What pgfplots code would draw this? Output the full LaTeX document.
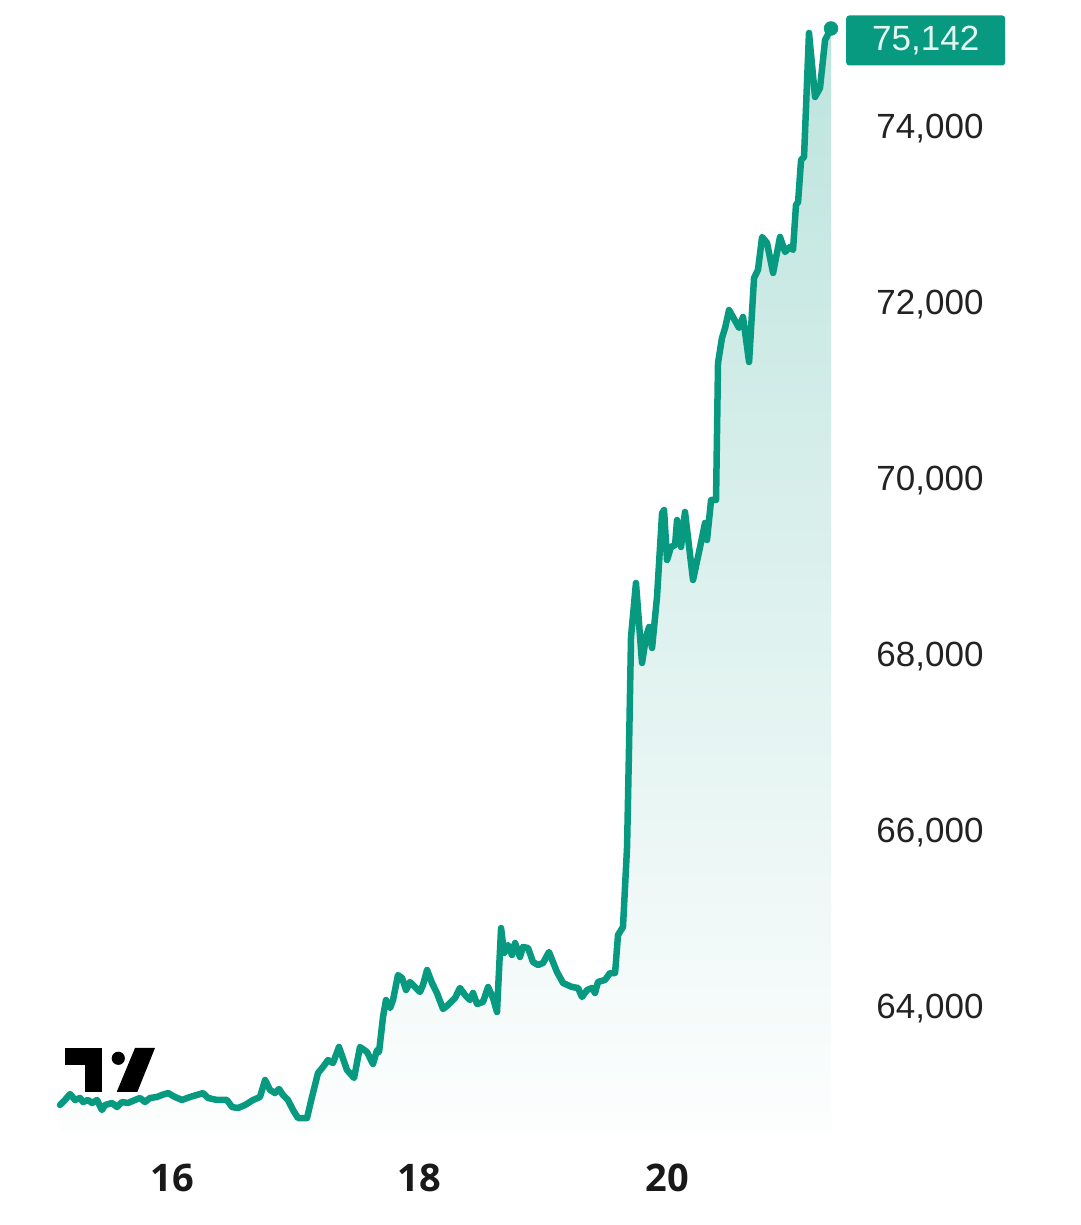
\documentclass[border=0pt]{standalone}
\usepackage{pgfplots}
\usepackage{pgfplotstable}
\pgfplotsset{compat=1.18}
\usepackage{fontspec}
\newfontfamily\labelfont{Liberation Sans}
\newfontfamily\boldfont{Open Sans}
\definecolor{tvgreen}{HTML}{089981}
\definecolor{labelgray}{HTML}{222222}
\definecolor{boxtext}{HTML}{E2F7F0}

\pgfplotstableread{
x y
15.095 62909
15.135 62966
15.176 63034
15.216 62966
15.257 62989
15.281 62943
15.321 62966
15.354 62932
15.394 62966
15.434 62852
15.459 62909
15.515 62932
15.556 62886
15.596 62943
15.644 62932
15.701 62966
15.741 62989
15.782 62943
15.822 62989
15.879 63000
15.919 63023
15.968 63045
16.024 63000
16.081 62966
16.145 63000
16.202 63023
16.251 63045
16.291 62989
16.364 62966
16.444 62966
16.485 62886
16.533 62875
16.590 62909
16.655 62966
16.711 63000
16.752 63193
16.792 63080
16.832 63045
16.865 63091
16.897 63023
16.937 62966
16.978 62852
17.018 62761
17.075 62761
17.091 62761
17.131 63000
17.180 63273
17.220 63341
17.261 63420
17.301 63386
17.349 63568
17.414 63307
17.471 63216
17.519 63568
17.576 63511
17.624 63375
17.657 63534
17.673 63511
17.705 63909
17.729 64102
17.762 64011
17.786 64102
17.826 64386
17.859 64352
17.891 64216
17.923 64307
17.964 64250
18.004 64193
18.028 64273
18.061 64443
18.101 64295
18.141 64182
18.190 64000
18.230 64045
18.287 64125
18.327 64239
18.368 64159
18.408 64102
18.432 64182
18.465 64057
18.513 64080
18.554 64250
18.594 64125
18.626 63966
18.659 64920
18.683 64636
18.715 64727
18.747 64614
18.772 64750
18.812 64591
18.836 64705
18.877 64693
18.917 64534
18.958 64500
18.998 64523
19.046 64648
19.111 64420
19.160 64295
19.232 64250
19.281 64239
19.313 64136
19.354 64216
19.394 64239
19.418 64182
19.442 64307
19.499 64330
19.539 64409
19.580 64409
19.604 64841
19.644 64932
19.677 65841
19.693 66977
19.709 68227
19.749 68841
19.798 67932
19.830 68227
19.855 68341
19.879 68102
19.919 68682
19.960 69636
19.976 69670
20.000 69102
20.032 69250
20.065 69273
20.081 69557
20.113 69250
20.145 69648
20.210 68875
20.267 69250
20.307 69523
20.323 69330
20.356 69784
20.396 69784
20.412 71341
20.444 71625
20.469 71739
20.501 71943
20.533 71864
20.582 71739
20.614 71864
20.663 71352
20.703 72307
20.735 72398
20.768 72773
20.808 72705
20.857 72364
20.913 72773
20.954 72602
20.994 72659
21.018 72625
21.042 73136
21.059 73170
21.083 73648
21.107 73682
21.147 75091
21.196 74364
21.236 74466
21.277 75011
21.325 75142
}\pricedata

\begin{document}
\begin{tikzpicture}
\path[use as bounding box, fill=white] (0,0) rectangle (1080pt,1225pt);
% TradingView logo
\fill[black] (65pt,177pt) rectangle (101.7pt,160pt);
\fill[black] (85pt,160pt) rectangle (101.7pt,133pt);
\fill[black] (118.3pt,166.7pt) circle (6.6pt);
\fill[black] (135pt,177pt) -- (155pt,177pt) -- (137.3pt,133pt) -- (116.7pt,133pt) -- cycle;
\begin{axis}[
  at={(60pt,92.8pt)}, anchor=south west,
  width=771pt, height=1113.2pt, scale only axis,
  xmin=15.095, xmax=21.325,
  ymin=62600, ymax=75250,
  clip=false,
  axis line style={draw=none},
  tick style={draw=none},
  major tick length=0pt,
  xtick={16,18,20},
  xticklabels={16,18,20},
  ytick={64000,66000,68000,70000,72000,74000},
  yticklabel pos=right,
  scaled y ticks=false,
  /pgf/number format/.cd, 1000 sep={,}, assume math mode=true,
  /pgfplots/.cd,
  yticklabel style={font=\labelfont\fontsize{35}{42}\selectfont, text=labelgray, anchor=center, xshift=99pt},
  xticklabel style={font=\boldfont\bfseries\fontsize{38}{44}\selectfont, text=black!90, anchor=center, yshift=-46pt},
]
\addplot[draw=none, top color=tvgreen!27!white, bottom color=tvgreen!1!white]
  table[x=x,y=y] {\pricedata} -- (axis cs:21.325,62600) -- (axis cs:15.095,62600) -- cycle;
\addplot[tvgreen, line width=6.5pt, line join=round, line cap=round, mark=none]
  table[x=x,y=y] {\pricedata};
\addplot[only marks, mark=*, mark size=7pt, tvgreen] coordinates {(21.325,75142)};
\node[fill=tvgreen, rounded corners=3pt, anchor=west, minimum width=159pt, minimum height=50pt, inner sep=0pt,
      text=boxtext, font=\labelfont\fontsize{35}{42}\selectfont, xshift=15pt, yshift=-12pt]
  at (axis cs:21.325,75142) {75,142};
\end{axis}
\end{tikzpicture}
\end{document}
